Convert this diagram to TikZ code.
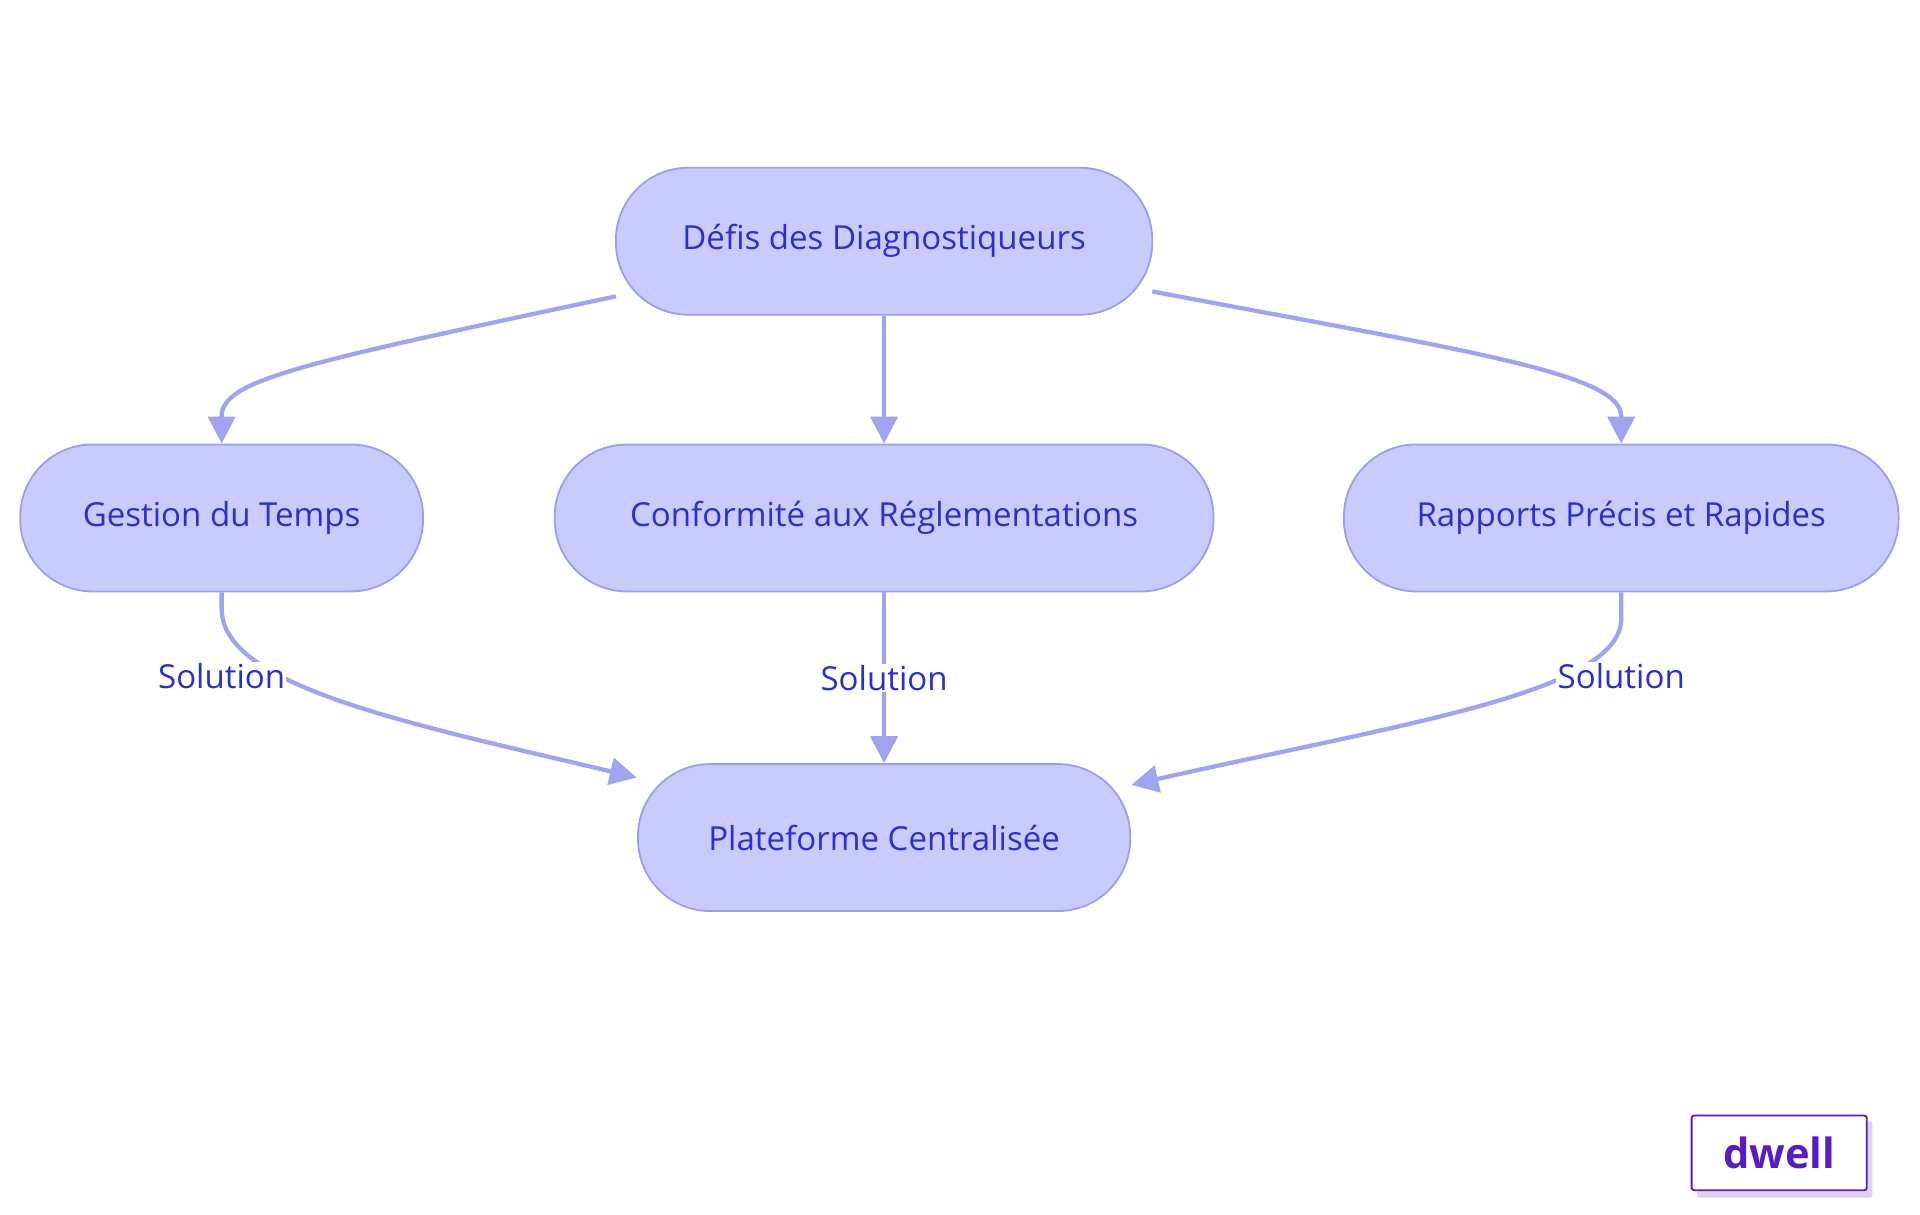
\documentclass[tikz,border=0pt]{standalone}
\usepackage{fontspec}
\setmainfont{Open Sans}
\usetikzlibrary{arrows.meta}
\definecolor{nfill}{HTML}{CACBFD}
\definecolor{nline}{HTML}{9C9FEF}
\definecolor{ntext}{HTML}{2B2FCB}
\definecolor{eline}{HTML}{A0A3F0}
\definecolor{logo}{HTML}{5B1BC4}
\begin{document}
\begin{tikzpicture}[x=1pt,y=-1pt,
 box/.style={draw=nline,line width=1.5pt,fill=nfill,rounded corners=59pt,minimum height=120pt,text=ntext,font=\fontsize{27}{32}\selectfont},
 edge/.style={draw=eline,line width=3.5pt,-{Triangle[length=22pt,width=22pt]}},
 lab/.style={fill=white,text=ntext,font=\fontsize{27}{32}\selectfont,inner sep=1pt}]
\useasboundingbox (0,0) rectangle (1568,992);
\node[box,minimum width=438pt] (d) at (722,197) {Défis des Diagnostiqueurs};
\node[box,minimum width=329pt] (g) at (181,423) {Gestion du Temps};
\node[box,minimum width=538pt] (c) at (722,423) {Conformité aux Réglementations};
\node[box,minimum width=453pt] (r) at (1324,423) {Rapports Précis et Rapides};
\node[box,minimum width=402pt] (p) at (722,684) {Plateforme Centralisée};
\coordinate (dl) at (503,242);
\coordinate (dr) at (941,238);
\coordinate (pl) at (520,635);
\coordinate (pr) at (924,641);
\draw[edge] (dl) .. controls (250,296) and (181,310) .. (181,340) -- (g.north);
\draw[edge] (d.south) -- (c.north);
\draw[edge] (dr) .. controls (1200,287) and (1324,305) .. (1324,340) -- (r.north);
\draw[edge] (g.south) -- (181,497) .. controls (181,560) and (330,590) .. (pl);
\draw[edge] (c.south) -- (p.north) node[lab,midway] {Solution};
\draw[edge] (r.south) -- (1324,505) .. controls (1324,565) and (1150,590) .. (pr);
\node[lab] (s1) at (181,552) {Solution};
\node[lab] (s3) at (1324,552) {Solution};
\fill[logo!20,rounded corners=2pt] (1386,916) rectangle (1529,978);
\node[draw=logo,line width=1.5pt,fill=white,rounded corners=2pt,minimum width=143pt,minimum height=61pt,inner sep=0pt,text=logo,font=\bfseries\fontsize{34}{40}\selectfont] (logo) at (1453,941.5) {dwell};
\end{tikzpicture}
\end{document}
